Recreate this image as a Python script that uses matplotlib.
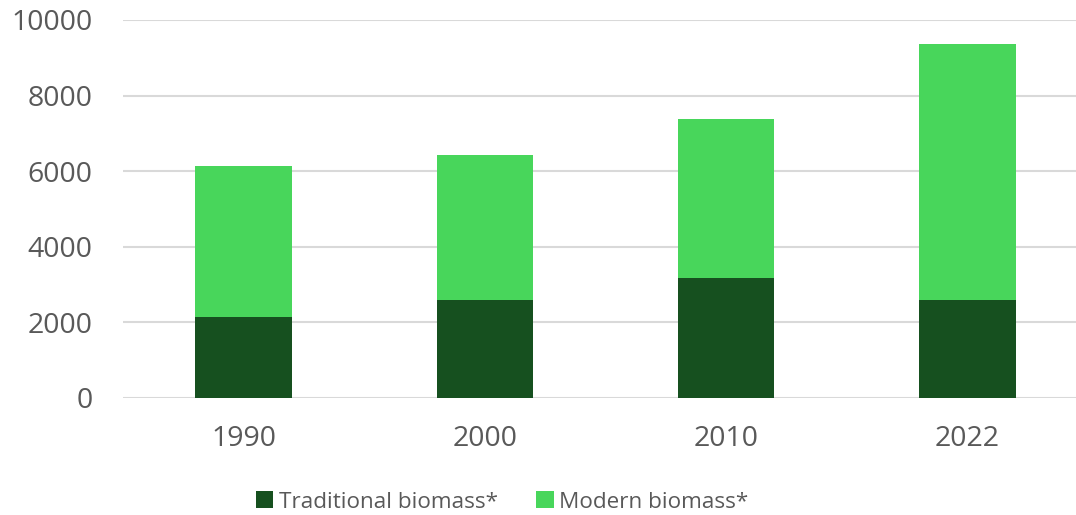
import matplotlib
matplotlib.use("Agg")
import matplotlib.pyplot as plt
from matplotlib.patches import Patch

years = ["1990", "2000", "2010", "2022"]
traditional = [2130, 2590, 3160, 2595]
modern_total = [6135, 6425, 7380, 9355]
modern = [t - d for t, d in zip(modern_total, traditional)]
yticks = [0, 2000, 4000, 6000, 8000, 10000]

dark = "#16501F"
light = "#48D65B"
txt = "#595959"

plt.rcParams['font.family'] = ['Open Sans', 'DejaVu Sans']

fig = plt.figure(figsize=(10.76, 5.15), dpi=100)
ax = fig.add_axes([123/1076, 117.3/515, 965/1076, 377.7/515])
ax.set_xlim(-0.5, 3.5)
ax.set_ylim(0, 10000)

x = range(len(years))
ax.bar(x, traditional, width=0.4, color=dark, zorder=3)
ax.bar(x, modern, width=0.4, bottom=traditional, color=light, zorder=3)

ax.set_yticks(yticks)
ax.set_yticklabels([str(v) for v in yticks])
ax.set_xticks(list(x))
ax.set_xticklabels(years)
ax.tick_params(axis='both', length=0, labelsize=20.5, colors=txt)
ax.tick_params(axis='y', pad=22)
ax.tick_params(axis='x', pad=20)
ax.grid(axis='y', color="#D9D9D9", linewidth=1.5, zorder=0)
ax.set_axisbelow(True)
for s in ax.spines.values():
    s.set_visible(False)

handles = [Patch(facecolor=dark, label="Traditional biomass*"),
           Patch(facecolor=light, label="Modern biomass*")]
leg = fig.legend(handles=handles, loc='center', bbox_to_anchor=(502/1076, 13/515),
                 ncol=2, frameon=False, fontsize=16.2, handlelength=0.78,
                 handleheight=0.78, handletextpad=0.25, columnspacing=1.7)
for t in leg.get_texts():
    t.set_color(txt)

fig.savefig("out.png", dpi=100)
